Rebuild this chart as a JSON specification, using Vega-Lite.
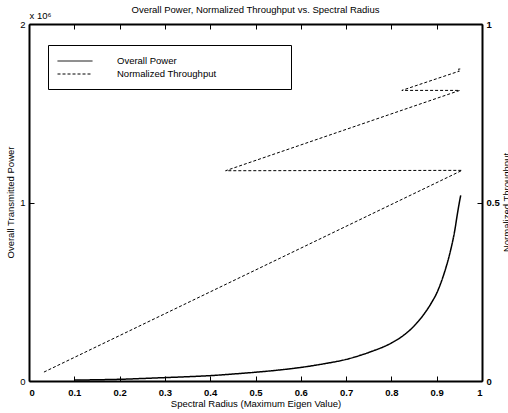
{
  "$schema": "https://vega.github.io/schema/vega-lite/v6.json",
  "width": 453,
  "height": 357,
  "autosize": {"type": "none"},
  "padding": {"left": 29, "top": 24, "right": 26, "bottom": 32},
  "background": "white",
  "title": {"text": "Overall Power, Normalized Throughput vs. Spectral Radius", "fontSize": 9.5, "font": "Liberation Sans", "fontWeight": "normal", "color": "black", "offset": -4, "anchor": "middle"},
  "config": {"view": {"stroke": null}, "font": "Liberation Sans"},
  "datasets": {
    "lines": [
      {"series": "Overall Power", "i": 1, "x": 0.10, "v": 5000},
      {"series": "Overall Power", "i": 2, "x": 0.15, "v": 7000},
      {"series": "Overall Power", "i": 3, "x": 0.20, "v": 9500},
      {"series": "Overall Power", "i": 4, "x": 0.25, "v": 14000},
      {"series": "Overall Power", "i": 5, "x": 0.30, "v": 19000},
      {"series": "Overall Power", "i": 6, "x": 0.35, "v": 24000},
      {"series": "Overall Power", "i": 7, "x": 0.40, "v": 30000},
      {"series": "Overall Power", "i": 8, "x": 0.45, "v": 39000},
      {"series": "Overall Power", "i": 9, "x": 0.50, "v": 49000},
      {"series": "Overall Power", "i": 10, "x": 0.55, "v": 61000},
      {"series": "Overall Power", "i": 11, "x": 0.60, "v": 76000},
      {"series": "Overall Power", "i": 12, "x": 0.65, "v": 96000},
      {"series": "Overall Power", "i": 13, "x": 0.70, "v": 121000},
      {"series": "Overall Power", "i": 14, "x": 0.75, "v": 160000},
      {"series": "Overall Power", "i": 15, "x": 0.80, "v": 213000},
      {"series": "Overall Power", "i": 16, "x": 0.83, "v": 262000},
      {"series": "Overall Power", "i": 17, "x": 0.85, "v": 308000},
      {"series": "Overall Power", "i": 18, "x": 0.87, "v": 368000},
      {"series": "Overall Power", "i": 19, "x": 0.89, "v": 445000},
      {"series": "Overall Power", "i": 20, "x": 0.90, "v": 492000},
      {"series": "Overall Power", "i": 21, "x": 0.91, "v": 555000},
      {"series": "Overall Power", "i": 22, "x": 0.92, "v": 632000},
      {"series": "Overall Power", "i": 23, "x": 0.93, "v": 725000},
      {"series": "Overall Power", "i": 24, "x": 0.94, "v": 845000},
      {"series": "Overall Power", "i": 25, "x": 0.945, "v": 925000},
      {"series": "Overall Power", "i": 26, "x": 0.95, "v": 1000000},
      {"series": "Overall Power", "i": 27, "x": 0.953, "v": 1040000},
      {"series": "Normalized Throughput", "i": 1, "x": 0.033, "v": 0.025},
      {"series": "Normalized Throughput", "i": 2, "x": 0.956, "v": 0.590},
      {"series": "Normalized Throughput", "i": 3, "x": 0.434, "v": 0.589},
      {"series": "Normalized Throughput", "i": 4, "x": 0.951, "v": 0.814},
      {"series": "Normalized Throughput", "i": 5, "x": 0.823, "v": 0.814},
      {"series": "Normalized Throughput", "i": 6, "x": 0.950, "v": 0.868},
      {"series": "Normalized Throughput", "i": 7, "x": 0.946, "v": 0.873},
      {"series": "Normalized Throughput", "i": 8, "x": 0.952, "v": 0.874}
    ]
  },
  "data": {"name": "lines"},
  "layer": [
    {
      "transform": [{"filter": "datum.series == 'Overall Power'"}],
      "mark": {"type": "line", "strokeWidth": 1.5, "interpolate": "monotone"},
      "encoding": {
        "x": {"field": "x", "type": "quantitative", "scale": {"domain": [0, 1]},
          "axis": {"orient": "bottom", "values": [0, 0.1, 0.2, 0.3, 0.4, 0.5, 0.6, 0.7, 0.8, 0.9, 1], "labelExpr": "datum.value == 0 ? '0' : datum.value == 1 ? '1' : format(datum.value, '.1f')", "grid": false,
            "title": "Spectral Radius (Maximum Eigen Value)", "titleFont": "Liberation Sans", "titleFontSize": 9.5, "titleFontWeight": "normal", "titleColor": "black",
            "titleX": 226.5, "titleY": 22, "titleBaseline": "middle",
            "labelFont": "Liberation Sans", "labelFontSize": 9.5, "labelFontWeight": "bold", "labelColor": "black", "labelPadding": 11, "labelFlush": true, "labelFlushOffset": 0, "labelOverlap": false, "labelBaseline": "top",
            "tickSize": -5, "tickColor": "black", "tickWidth": 1, "domainColor": "black", "domainWidth": 2}},
        "y": {"field": "v", "type": "quantitative", "scale": {"domain": [0, 2000000]},
          "axis": {"orient": "left", "values": [0, 1000000, 2000000], "labelExpr": "format(datum.value / 1000000, 'd')", "grid": false,
            "title": "Overall Transmitted Power", "titleFont": "Liberation Sans", "titleFontSize": 9.5, "titleFontWeight": "normal", "titleColor": "black",
            "titleX": -19, "titleY": 178, "titleAngle": 270, "titleBaseline": "middle", "titleAlign": "center",
            "labelFont": "Liberation Sans", "labelFontSize": 9.5, "labelFontWeight": "normal", "labelColor": "black", "labelPadding": 9, "labelFlush": false, "labelOverlap": false,
            "tickSize": -5, "tickColor": "black", "tickWidth": 1, "domainColor": "black", "domainWidth": 2}},
        "order": {"field": "i", "type": "quantitative"},
        "color": {"field": "series", "type": "nominal", "scale": {"domain": ["Overall Power", "Normalized Throughput"], "range": ["black", "black"]},
          "legend": {"title": null, "orient": "none", "legendX": 19, "legendY": 21, "strokeColor": "black", "fillColor": "white", "padding": 10,
            "symbolType": "M-3.18,0H3.18M37,0h0", "symbolSize": 121, "symbolStrokeWidth": 1, "symbolOffset": 11, "labelFont": "Liberation Sans", "labelFontSize": 9.5, "labelColor": "black", "labelOffset": 36, "rowPadding": 2,
            "labelLimit": 400}},
        "strokeDash": {"field": "series", "type": "nominal", "scale": {"domain": ["Overall Power", "Normalized Throughput"], "range": [[1, 0], [3, 2]]},
          "legend": {"title": null, "orient": "none", "legendX": 19, "legendY": 21, "strokeColor": "black", "fillColor": "white", "padding": 10,
            "symbolType": "M-3.18,0H3.18M37,0h0", "symbolSize": 121, "symbolStrokeWidth": 1, "symbolOffset": 11, "labelFont": "Liberation Sans", "labelFontSize": 9.5, "labelColor": "black", "labelOffset": 36, "rowPadding": 2,
            "labelLimit": 400}}
      }
    },
    {
      "transform": [{"filter": "datum.series == 'Normalized Throughput'"}],
      "mark": {"type": "line", "strokeWidth": 1},
      "encoding": {
        "x": {"field": "x", "type": "quantitative", "scale": {"domain": [0, 1]},
          "axis": {"orient": "top", "values": [0, 0.1, 0.2, 0.3, 0.4, 0.5, 0.6, 0.7, 0.8, 0.9, 1], "labels": false, "grid": false,
            "title": "x 10⁶", "titleFont": "Liberation Sans", "titleFontSize": 9.5, "titleFontWeight": "normal", "titleColor": "black",
            "titleX": 0, "titleY": -9, "titleAlign": "left", "titleBaseline": "middle",
            "tickSize": -5, "tickColor": "black", "tickWidth": 1, "domainColor": "black", "domainWidth": 2}},
        "y": {"field": "v", "type": "quantitative", "scale": {"domain": [0, 1]},
          "axis": {"orient": "right", "values": [0, 0.5, 1], "labelExpr": "datum.value == 0 ? '0' : datum.value == 1 ? '1' : '0.5'", "grid": false,
            "title": "Normalized Throughput", "titleFont": "Liberation Sans", "titleFontSize": 9.5, "titleFontWeight": "normal", "titleColor": "black",
            "titleX": 24, "titleY": 178, "titleAngle": 270, "titleBaseline": "middle", "titleAlign": "center",
            "labelFont": "Liberation Sans", "labelFontSize": 9.5, "labelFontWeight": "bold", "labelColor": "black", "labelPadding": 9, "labelFlush": false, "labelOverlap": false,
            "tickSize": -5, "tickColor": "black", "tickWidth": 1, "domainColor": "black", "domainWidth": 2}},
        "order": {"field": "i", "type": "quantitative"},
        "color": {"field": "series", "type": "nominal", "scale": {"domain": ["Overall Power", "Normalized Throughput"], "range": ["black", "black"]}},
        "strokeDash": {"field": "series", "type": "nominal", "scale": {"domain": ["Overall Power", "Normalized Throughput"], "range": [[1, 0], [3, 2]]}}
      }
    }
  ],
  "resolve": {"scale": {"y": "independent"}, "axis": {"x": "independent", "y": "independent"}}
}
